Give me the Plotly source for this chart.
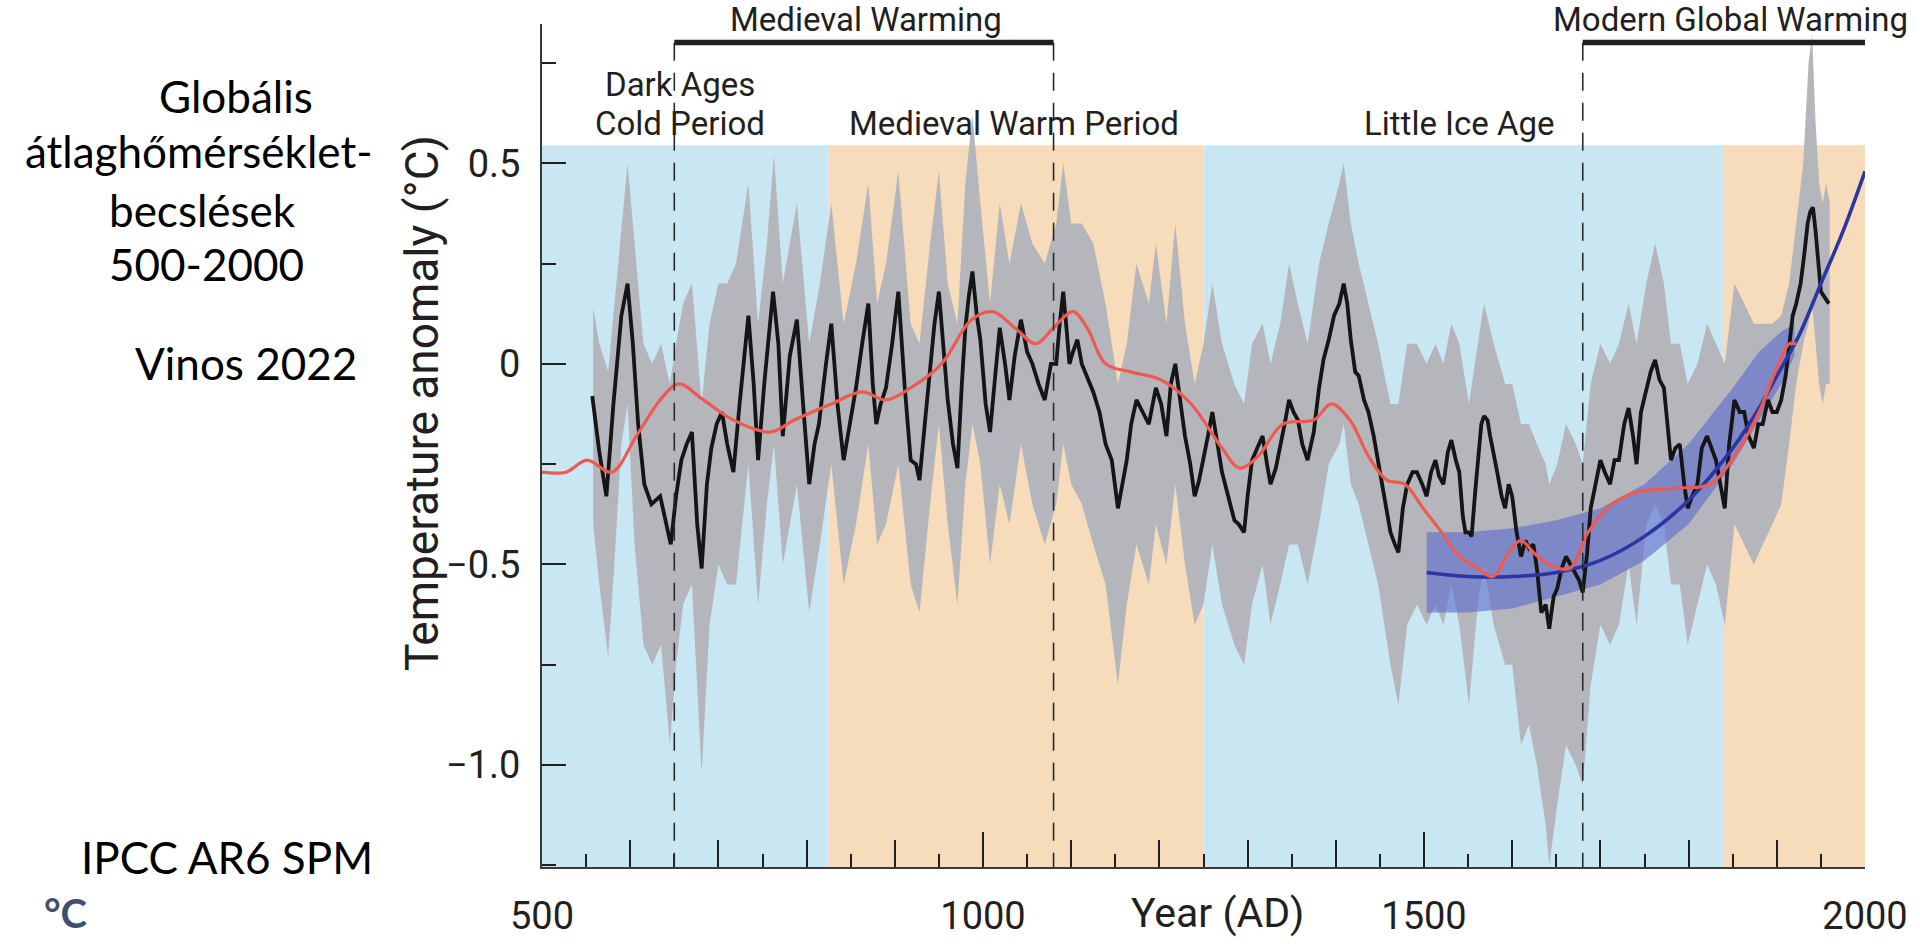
import plotly.graph_objects as go

# ---------------- data ----------------
black_years = [557,565,573,581,590,597,603,609,616,624,634,640,646,652,658,664,670,676,681,687,692,698,704,710,717,724,734,740,745,752,762,768,773,781,789,796,803,809,814,822,828,835,842,849,856,863,870,875,879,884,890,897,904,911,918,924,928,934,939,945,950,955,960,966,971,976,980,984,988,993,997,1003,1008,1013,1019,1025,1030,1036,1043,1050,1056,1063,1070,1077,1083,1087,1091,1095,1098,1102,1107,1112,1118,1125,1132,1139,1146,1153,1158,1163,1168,1174,1181,1188,1196,1202,1208,1213,1218,1224,1229,1235,1240,1245,1250,1255,1260,1266,1271,1278,1285,1290,1296,1300,1305,1311,1317,1322,1326,1332,1337,1342,1347,1352,1357,1362,1368,1375,1381,1386,1392,1398,1404,1409,1413,1417,1422,1426,1432,1437,1443,1448,1455,1462,1467,1471,1476,1481,1487,1492,1498,1503,1508,1513,1517,1522,1527,1531,1536,1540,1544,1547,1551,1554,1558,1561,1565,1568,1572,1575,1579,1583,1588,1592,1596,1600,1605,1610,1615,1619,1624,1628,1633,1638,1642,1647,1651,1656,1661,1666,1672,1676,1680,1685,1689,1695,1700,1705,1711,1716,1721,1727,1732,1737,1741,1746,1752,1757,1762,1767,1772,1776,1780,1785,1790,1795,1799,1804,1810,1815,1821,1826,1831,1836,1841,1846,1852,1858,1863,1868,1874,1879,1884,1890,1895,1900,1905,1910,1914,1918,1922,1927,1931,1935,1938,1941,1944,1947,1950,1953,1956,1959]
black_vals = [-0.08,-0.22,-0.33,-0.10,0.12,0.20,0.05,-0.15,-0.30,-0.35,-0.33,-0.39,-0.45,-0.33,-0.24,-0.20,-0.17,-0.40,-0.51,-0.30,-0.21,-0.15,-0.12,-0.20,-0.27,-0.10,0.12,-0.05,-0.24,-0.05,0.18,0.05,-0.18,0.02,0.11,-0.10,-0.30,-0.20,-0.15,0.00,0.10,-0.10,-0.24,-0.15,-0.06,0.05,0.15,-0.05,-0.15,-0.10,-0.06,0.05,0.18,-0.05,-0.24,-0.25,-0.29,-0.15,-0.03,0.10,0.18,0.05,-0.09,-0.20,-0.26,-0.05,0.09,0.17,0.23,0.12,0.06,-0.10,-0.17,-0.05,0.09,0.00,-0.09,0.02,0.11,0.03,0.00,-0.05,-0.09,0.00,0.00,0.10,0.18,0.08,0.00,0.03,0.06,0.00,-0.03,-0.07,-0.12,-0.20,-0.24,-0.36,-0.30,-0.24,-0.15,-0.09,-0.12,-0.15,-0.06,-0.10,-0.18,-0.05,0.00,-0.10,-0.18,-0.25,-0.33,-0.29,-0.24,-0.18,-0.12,-0.20,-0.27,-0.33,-0.39,-0.40,-0.42,-0.33,-0.24,-0.21,-0.18,-0.25,-0.30,-0.26,-0.21,-0.15,-0.09,-0.12,-0.14,-0.20,-0.24,-0.17,-0.06,0.01,0.06,0.12,0.15,0.20,0.15,0.06,-0.02,-0.03,-0.09,-0.12,-0.18,-0.24,-0.33,-0.42,-0.45,-0.47,-0.36,-0.30,-0.27,-0.27,-0.30,-0.33,-0.27,-0.24,-0.28,-0.30,-0.22,-0.19,-0.24,-0.27,-0.38,-0.42,-0.42,-0.43,-0.32,-0.24,-0.15,-0.13,-0.14,-0.18,-0.22,-0.27,-0.33,-0.36,-0.30,-0.33,-0.42,-0.48,-0.44,-0.46,-0.45,-0.51,-0.62,-0.60,-0.66,-0.58,-0.56,-0.51,-0.48,-0.50,-0.52,-0.54,-0.57,-0.47,-0.36,-0.30,-0.24,-0.27,-0.30,-0.24,-0.24,-0.15,-0.11,-0.18,-0.25,-0.12,-0.06,-0.02,0.01,-0.04,-0.06,-0.14,-0.24,-0.21,-0.20,-0.30,-0.36,-0.33,-0.30,-0.21,-0.18,-0.21,-0.24,-0.30,-0.36,-0.20,-0.09,-0.12,-0.12,-0.18,-0.21,-0.15,-0.15,-0.09,-0.12,-0.12,-0.09,-0.03,0.04,0.12,0.15,0.20,0.27,0.35,0.38,0.39,0.33,0.24,0.18,0.17,0.16,0.15]

band_years = [558,565,575,582,590,597,605,615,625,635,645,652,660,670,681,690,700,710,720,734,745,755,763,773,789,803,815,828,842,856,870,880,890,904,918,928,940,950,960,971,980,988,997,1008,1019,1030,1043,1056,1070,1083,1091,1100,1112,1125,1139,1153,1163,1174,1188,1196,1208,1218,1229,1240,1250,1260,1271,1285,1296,1305,1317,1326,1337,1347,1357,1368,1381,1392,1404,1409,1417,1426,1437,1448,1462,1471,1481,1492,1503,1513,1522,1531,1540,1551,1561,1568,1579,1592,1600,1610,1619,1628,1638,1642,1651,1661,1672,1680,1689,1700,1711,1721,1732,1741,1752,1762,1772,1780,1790,1799,1810,1821,1831,1841,1852,1863,1874,1884,1895,1905,1914,1922,1930,1936,1940,1944,1948,1952,1956,1960]
band_hi = [0.14,0.05,-0.02,0.15,0.35,0.50,0.30,0.05,0.00,0.05,-0.05,0.05,0.15,0.20,-0.10,0.10,0.20,0.20,0.25,0.45,0.10,0.30,0.52,0.20,0.40,0.05,0.20,0.40,0.10,0.25,0.45,0.15,0.25,0.48,0.10,0.05,0.30,0.48,0.20,0.10,0.45,0.62,0.40,0.15,0.40,0.25,0.40,0.30,0.25,0.35,0.50,0.35,0.35,0.30,0.15,-0.05,0.05,0.25,0.15,0.30,0.10,0.35,0.10,-0.05,0.05,0.20,0.05,-0.05,-0.10,0.05,0.10,0.00,0.10,0.25,0.15,0.05,0.25,0.35,0.45,0.50,0.35,0.25,0.15,0.05,-0.10,-0.10,0.05,0.05,0.00,0.05,0.00,0.10,0.05,-0.10,0.05,0.15,0.05,-0.05,-0.05,-0.15,-0.15,-0.20,-0.25,-0.30,-0.25,-0.15,-0.20,-0.25,-0.05,0.05,0.00,0.05,0.15,0.05,0.20,0.30,0.20,0.05,0.05,-0.05,0.00,0.10,0.05,0.00,0.20,0.15,0.10,0.10,0.10,0.12,0.20,0.35,0.50,0.75,0.82,0.60,0.45,0.40,0.45,0.40]
band_lo = [-0.40,-0.55,-0.73,-0.50,-0.20,-0.10,-0.45,-0.70,-0.75,-0.70,-0.95,-0.75,-0.60,-0.55,-1.02,-0.65,-0.50,-0.55,-0.55,-0.25,-0.60,-0.35,-0.20,-0.50,-0.30,-0.62,-0.45,-0.25,-0.55,-0.40,-0.20,-0.45,-0.40,-0.25,-0.55,-0.62,-0.35,-0.15,-0.40,-0.60,-0.30,-0.15,-0.25,-0.50,-0.30,-0.40,-0.20,-0.35,-0.45,-0.35,-0.20,-0.30,-0.35,-0.45,-0.55,-0.80,-0.60,-0.45,-0.55,-0.40,-0.50,-0.30,-0.50,-0.65,-0.60,-0.45,-0.60,-0.70,-0.75,-0.60,-0.50,-0.65,-0.55,-0.45,-0.45,-0.55,-0.40,-0.25,-0.20,-0.15,-0.30,-0.35,-0.45,-0.55,-0.75,-0.85,-0.65,-0.60,-0.65,-0.60,-0.65,-0.55,-0.65,-0.85,-0.60,-0.50,-0.65,-0.75,-0.75,-0.95,-0.90,-1.00,-1.15,-1.25,-1.10,-0.95,-1.00,-1.05,-0.80,-0.65,-0.70,-0.65,-0.50,-0.65,-0.40,-0.35,-0.40,-0.55,-0.55,-0.70,-0.60,-0.50,-0.55,-0.65,-0.40,-0.45,-0.50,-0.45,-0.40,-0.35,-0.20,-0.05,0.05,0.10,0.15,0.05,-0.05,-0.10,-0.05,-0.05]

red_years = [500,527,551,579,607,634,655,683,717,759,786,828,863,890,918,953,987,1011,1036,1060,1080,1102,1118,1139,1167,1202,1236,1271,1291,1312,1340,1375,1395,1416,1437,1458,1478,1499,1520,1540,1561,1578,1596,1610,1624,1642,1665,1686,1713,1741,1783,1824,1852,1880,1900,1914,1922]
red_vals = [-0.27,-0.27,-0.24,-0.27,-0.18,-0.09,-0.05,-0.09,-0.14,-0.17,-0.14,-0.10,-0.07,-0.09,-0.06,0.00,0.11,0.13,0.09,0.05,0.09,0.13,0.09,0.00,-0.02,-0.04,-0.10,-0.21,-0.26,-0.23,-0.15,-0.14,-0.10,-0.14,-0.23,-0.29,-0.30,-0.36,-0.42,-0.48,-0.51,-0.53,-0.47,-0.44,-0.47,-0.50,-0.51,-0.42,-0.35,-0.32,-0.31,-0.30,-0.23,-0.12,-0.01,0.05,0.05]

blue_years = [1503,1550,1600,1650,1700,1750,1800,1850,1880,1900,1925,1950,1975,2000]
blue_vals = [-0.52,-0.53,-0.53,-0.52,-0.49,-0.43,-0.34,-0.21,-0.11,-0.03,0.07,0.20,0.33,0.48]

blueband_years = [1503,1550,1600,1650,1700,1750,1800,1850,1880,1905,1920]
blueband_hi = [-0.42,-0.42,-0.41,-0.39,-0.36,-0.30,-0.20,-0.06,0.03,0.08,0.10]
blueband_lo = [-0.62,-0.62,-0.61,-0.58,-0.55,-0.49,-0.40,-0.25,-0.14,-0.05,0.02]

# climate period shading
period_edges = [500, 825, 1250, 1840, 2000]
period_kinds = ["cold", "warm", "cold", "warm"]
shade_top = 0.545

# warming spans with dashed boundaries
warm_spans = [(650, 1080), (1680, 2000)]
warm_names = ["Medieval Warming", "Modern Global Warming"]
dashed_years = [650, 1080, 1680]

period_labels = [(656, 0.695, "Dark Ages"), (656, 0.600, "Cold Period"),
                 (1035, 0.600, "Medieval Warm Period"), (1540, 0.600, "Little Ice Age")]

x_major = list(range(500, 2001, 100))
x_labels = [str(v) if v % 500 == 0 else "" for v in x_major]
y_major = [-1.0, -0.5, 0.0, 0.5]
y_labels = ["\u22121.0", "\u22120.5", "0", "0.5"]

Y0, Y1 = -1.254, 0.847

# ---------------- figure ----------------
L, R, T, B = 542.3, 1870.0, 24.3, 876.0
W, H = 1920, 950
def px(x):
    return (x - L) / (R - L)
def py(y):
    return (B - y) / (B - T)

INK = "#231F20"
FONT = "Roboto"

fig = go.Figure()

fig.add_trace(go.Scatter(
    x=band_years + band_years[::-1], y=band_hi + band_lo[::-1],
    fill="toself", fillcolor="#B4B6BC", line=dict(width=0), mode="lines",
    hoverinfo="skip", showlegend=False))

fig.add_trace(go.Scatter(
    x=blueband_years + blueband_years[::-1], y=blueband_hi + blueband_lo[::-1],
    fill="toself", fillcolor="rgba(95,108,205,0.62)", line=dict(width=0), mode="lines",
    hoverinfo="skip", showlegend=False))

fig.add_trace(go.Scatter(x=black_years, y=black_vals, mode="lines",
                         line=dict(color="#151515", width=3.8), showlegend=False))
fig.add_trace(go.Scatter(x=blue_years, y=blue_vals, mode="lines", line_shape="spline",
                         line=dict(color="#2B35A3", width=3.6), showlegend=False))
fig.add_trace(go.Scatter(x=red_years, y=red_vals, mode="lines", line_shape="spline",
                         line=dict(color="#EE5A52", width=3.2), showlegend=False))

shapes = []
colors = {"cold": "#C9E6F3", "warm": "#F6DCBA"}
for i, kind in enumerate(period_kinds):
    shapes.append(dict(type="rect", xref="x", yref="y", x0=period_edges[i], x1=period_edges[i + 1],
                       y0=Y0, y1=shade_top, fillcolor=colors[kind], line=dict(width=0), layer="below"))
for xd in dashed_years:
    shapes.append(dict(type="line", xref="x", yref="y", x0=xd, x1=xd, y0=0.80, y1=Y0,
                       line=dict(color="#2a2a2a", width=1.6, dash="18px,12px"), layer="above"))
bar_y = 0.801
for a, b in warm_spans:
    shapes.append(dict(type="line", xref="x", yref="y", x0=a, x1=b, y0=bar_y, y1=bar_y,
                       line=dict(color=INK, width=5.5), layer="above"))

ann = []
for name, xc in zip(warm_names, [867, 1735]):
    ann.append(dict(x=px(xc), y=py(20), xref="paper", yref="paper", text=name, showarrow=False,
                    font=dict(family=FONT, size=33, color=INK), xanchor="center", yanchor="middle"))
for x, y, t in period_labels:
    ann.append(dict(x=x, y=y, xref="x", yref="y", text=t, showarrow=False,
                    font=dict(family=FONT, size=33, color=INK), xanchor="center", yanchor="middle"))

ann.append(dict(x=px(422), y=py(407), xref="paper", yref="paper", text="Temperature anomaly (\u00b0C)",
                textangle=-90, showarrow=False, font=dict(family=FONT, size=46, color=INK),
                xanchor="center", yanchor="middle"))
ann.append(dict(x=px(1220), y=0, xref="paper", yref="paper", yshift=-(H - B) + 2, text="Year (AD)",
                showarrow=False, font=dict(family=FONT, size=41, color=INK),
                xanchor="center", yanchor="bottom"))

side = [("Globális", 235, 97), ("átlaghőmérséklet-", 198, 153), ("becslések", 202, 212),
        ("500-2000", 206, 267), ("Vinos 2022", 245, 367), ("IPCC AR6 SPM", 226, 866)]
for t, x, y in side:
    ann.append(dict(x=px(x), y=py(y), xref="paper", yref="paper", text=t, showarrow=False,
                    font=dict(family="Lato", size=44, color="#000000"),
                    xanchor="center", yanchor="middle"))
ann.append(dict(x=px(64), y=py(922), xref="paper", yref="paper", text="<b>\u00b0C</b>", showarrow=False,
                font=dict(family="Lato", size=40, color="#3f4f6e"), xanchor="center", yanchor="middle"))

fig.update_layout(
    width=W, height=H, autosize=False,
    margin=dict(l=L, r=W - R, t=T, b=H - B, pad=0),
    paper_bgcolor="white", plot_bgcolor="white",
    showlegend=False, hovermode=False,
    shapes=shapes, annotations=ann,
    xaxis=dict(range=[500, 2000], showgrid=False, zeroline=False, showline=True,
               linecolor="#3a3a3a", linewidth=2, ticks="inside", tickvals=x_major, ticktext=x_labels,
               ticklen=27, tickwidth=2, tickcolor=INK, ticklabelstandoff=14,
               tickfont=dict(family=FONT, size=38, color=INK),
               minor=dict(dtick=50, tick0=500, ticks="inside", ticklen=13, tickwidth=2, tickcolor=INK)),
    xaxis2=dict(range=[500, 2000], overlaying="x", anchor="y", side="bottom", showgrid=False,
                zeroline=False, showline=False, ticks="inside", tickvals=[1000, 1500],
                ticklen=35, tickwidth=2, tickcolor=INK, showticklabels=False),
    yaxis=dict(range=[Y0, Y1], showgrid=False, zeroline=False, showline=True,
               linecolor="#3a3a3a", linewidth=2, ticks="inside", tickvals=y_major, ticktext=y_labels,
               ticklen=24, tickwidth=2, tickcolor=INK, ticklabelstandoff=12,
               tickfont=dict(family=FONT, size=38, color=INK),
               minor=dict(dtick=0.25, tick0=0, ticks="inside", ticklen=14, tickwidth=2, tickcolor=INK)),
)
fig.add_trace(go.Scatter(x=[500], y=[Y0], xaxis="x2", mode="markers", marker=dict(opacity=0),
                         hoverinfo="skip", showlegend=False))

fig.write_html("out.html", config=dict(displayModeBar=False))
